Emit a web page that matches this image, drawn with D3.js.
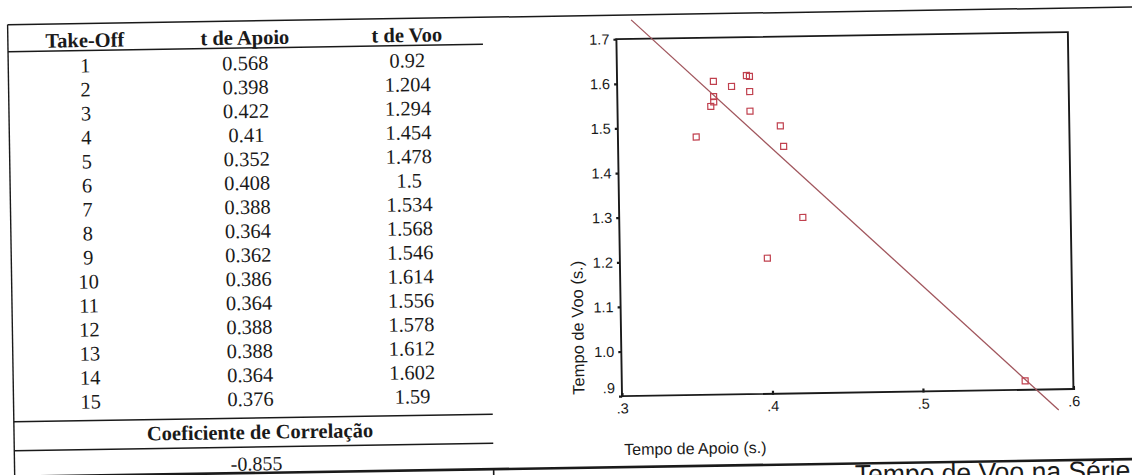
<!DOCTYPE html>
<html>
<head>
<meta charset="utf-8">
<script src="https://cdn.jsdelivr.net/npm/d3@7"></script>
<style>
  html, body { margin: 0; padding: 0; background: #ffffff; overflow: hidden; }
  svg { display: block; }
</style>
</head>
<body>
<svg id="chart" width="1132" height="475"></svg>
<script>
// ---- data ----
const takeOff = [1, 2, 3, 4, 5, 6, 7, 8, 9, 10, 11, 12, 13, 14, 15];
const tApoio  = [0.568, 0.398, 0.422, 0.41, 0.352, 0.408, 0.388, 0.364, 0.362, 0.386, 0.364, 0.388, 0.388, 0.364, 0.376];
const tVoo    = [0.92, 1.204, 1.294, 1.454, 1.478, 1.5, 1.534, 1.568, 1.546, 1.614, 1.556, 1.578, 1.612, 1.602, 1.59];
const headers = ["Take-Off", "t de Apoio", "t de Voo"];
const corrLabel = "Coeficiente de Correlação";
const corrValue = "-0.855";
const xTicks = [0.3, 0.4, 0.5, 0.6];
const xTickLabels = [".3", ".4", ".5", ".6"];
const yTicks = [0.9, 1.0, 1.1, 1.2, 1.3, 1.4, 1.5, 1.6, 1.7];
const yTickLabels = [".9", "1.0", "1.1", "1.2", "1.3", "1.4", "1.5", "1.6", "1.7"];
const fitRange = [0.31, 0.59];
const xTitle = "Tempo de Apoio (s.)";
const yTitle = "Tempo de Voo (s.)";
const caption = "Tempo de Voo na Série";

const svg = d3.select("#chart");
const root = svg.append("g").attr("transform", "rotate(-0.9,566,237)");

const serif = "'Liberation Serif','Times New Roman',serif";
const sans = "'Liberation Sans',Arial,sans-serif";
const ink = "#1a1a1a";

// ---- table ----
const colX = [88, 248, 410];
const rowY = d3.scalePoint().domain(takeOff).range([58, 394]);

function hline(x1, x2, y, w) {
  root.append("line").attr("x1", x1).attr("x2", x2).attr("y1", y).attr("y2", y)
    .attr("stroke", ink).attr("stroke-width", w || 1.4);
}
hline(11, 1145, 16, 1.5);
hline(11, 486, 43, 1.5);
hline(11, 490, 413, 1.5);
hline(11, 490, 442, 1.5);
hline(11, 1145, 468, 2.6);
root.append("line").attr("x1", 11).attr("x2", 11).attr("y1", 16).attr("y2", 485)
  .attr("stroke", ink).attr("stroke-width", 1.4);
root.append("line").attr("x1", 490).attr("x2", 490).attr("y1", 468).attr("y2", 485)
  .attr("stroke", ink).attr("stroke-width", 1.6);

root.selectAll("text.hdr").data(headers).enter().append("text")
  .attr("class", "hdr")
  .attr("x", (d, i) => colX[i]).attr("y", 39.5)
  .attr("text-anchor", "middle")
  .attr("font-family", serif).attr("font-weight", "bold").attr("font-size", 20.5)
  .attr("fill", ink).text(d => d);

const rows = takeOff.map((t, i) => [t, tApoio[i], tVoo[i]]);
const rowG = root.selectAll("g.row").data(rows).enter().append("g")
  .attr("class", "row")
  .attr("transform", d => `translate(0,${rowY(d[0]) + 7})`);
rowG.selectAll("text").data(d => d).enter().append("text")
  .attr("x", (d, i) => colX[i]).attr("y", 0)
  .attr("text-anchor", "middle")
  .attr("font-family", serif).attr("font-size", 20.5)
  .attr("fill", ink).text(d => String(d));

root.append("text").attr("x", 257).attr("y", 434)
  .attr("text-anchor", "middle")
  .attr("font-family", serif).attr("font-weight", "bold").attr("font-size", 20.5)
  .attr("fill", ink).text(corrLabel);
root.append("text").attr("x", 253).attr("y", 465.5)
  .attr("text-anchor", "middle")
  .attr("font-family", serif).attr("font-size", 20)
  .attr("fill", ink).text(corrValue);

// ---- scatter plot ----
const x = d3.scaleLinear().domain([0.3, 0.6]).range([619.5, 1071]);
const y = d3.scaleLinear().domain([0.9, 1.7]).range([397, 40]);

const plot = root.append("g");

const yAxis = d3.axisLeft(y).tickValues(yTicks)
  .tickFormat((d, i) => yTickLabels[i]).tickSize(3).tickPadding(4);
const gy = plot.append("g").attr("transform", `translate(${x.range()[0]},0)`).call(yAxis);
gy.select(".domain").remove();
gy.selectAll(".tick line").attr("stroke", ink).attr("stroke-width", 2.2);
gy.selectAll(".tick text").attr("font-family", sans).attr("font-size", 14.5).attr("fill", ink)
  .attr("dy", (d, i) => i === 0 ? "-0.25em" : "0.32em");

const xAxis = d3.axisBottom(x).tickValues(xTicks)
  .tickFormat((d, i) => xTickLabels[i]).tickSize(3).tickPadding(4);
const gx = plot.append("g").attr("transform", `translate(0,${y.range()[0]})`).call(xAxis);
gx.select(".domain").remove();
gx.selectAll(".tick line").attr("stroke", ink).attr("stroke-width", 2.2).attr("y1", -3).attr("y2", 1);
gx.selectAll(".tick text").attr("font-family", sans).attr("font-size", 14.5).attr("fill", ink);

// frame
plot.append("rect")
  .attr("x", x.range()[0]).attr("y", y.range()[1])
  .attr("width", x.range()[1] - x.range()[0])
  .attr("height", y.range()[0] - y.range()[1])
  .attr("fill", "none").attr("stroke", ink).attr("stroke-width", 1.9);

// regression line computed from the data
const mx = d3.mean(tApoio), my = d3.mean(tVoo);
let sxy = 0, sxx = 0;
tApoio.forEach((v, i) => { sxy += (v - mx) * (tVoo[i] - my); sxx += (v - mx) * (v - mx); });
const slope = sxy / sxx, intercept = my - slope * mx;
plot.append("path")
  .datum(fitRange.map(v => [v, intercept + slope * v]))
  .attr("d", d3.line().x(d => x(d[0])).y(d => y(d[1])))
  .attr("fill", "none").attr("stroke", "#a0555c").attr("stroke-width", 1.3);

// points
const sz = 6;
plot.selectAll("rect.pt").data(tApoio.map((v, i) => [v, tVoo[i]])).enter().append("rect")
  .attr("class", "pt")
  .attr("x", d => x(d[0]) - sz / 2).attr("y", d => y(d[1]) - sz / 2)
  .attr("width", sz).attr("height", sz)
  .attr("fill", "none").attr("stroke", "#c0404e").attr("stroke-width", 1.2);

// axis titles
plot.append("text").attr("x", 692).attr("y", 456)
  .attr("text-anchor", "middle").attr("font-family", sans).attr("font-size", 16)
  .attr("fill", ink).text(xTitle);
plot.append("text").attr("transform", "translate(582,328) rotate(-90)")
  .attr("text-anchor", "middle").attr("font-family", sans).attr("font-size", 16.5)
  .attr("fill", ink).text(yTitle);

// caption (cut off at the page bottom, as in the scan)
root.append("text").attr("x", 851).attr("y", 488)
  .attr("font-family", sans).attr("font-size", 26.5)
  .attr("fill", ink).text(caption);
</script>
</body>
</html>
